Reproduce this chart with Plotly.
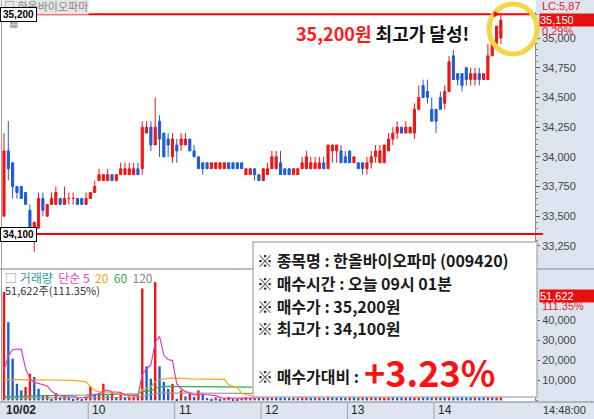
import pandas as pd
import plotly.graph_objects as go

# ---- data (20-min candles, 10/02 .. 14) ----
day_labels = ["10/02", "10", "11", "12", "13", "14"]
day_starts = [0, 20, 40, 60, 80, 100]

open_ = [33500, 34050, 33950, 33750, 33750, 33700, 33550, 33400, 33400, 33650,
         33500, 33600, 33600, 33650, 33600, 33650, 33650, 33650, 33650, 33600,
         33650, 33700, 33800, 33800, 33800, 33850, 33800, 33850, 33850, 33850,
         33850, 33900, 33900, 34200, 34250, 34100, 34300, 34200, 34150, 34000,
         34100, 34100, 34100, 34150, 34050, 34000, 33950, 33950, 33900, 33900,
         33900, 33900, 33950, 33950, 33950, 33950, 33850, 33850, 33900, 33850,
         33800, 33850, 33900, 33900, 33950, 33900, 33900, 33850, 33850, 33900,
         33900, 33900, 33900, 33900, 33950, 33900, 34050, 34050, 34050, 34000,
         34050, 33950, 33950, 33950, 33900, 33950, 34000, 33950, 33950, 34050,
         34150, 34200, 34250, 34200, 34200, 34200, 34400, 34600, 34550, 34400,
         34400, 34500, 34450, 34550, 34850, 34700, 34700, 34750, 34650, 34650,
         34700, 34650, 34650, 34850, 34950, 35000]
high = [34200, 34300, 33950, 33750, 33750, 33700, 33600, 33450, 33700, 33700,
        33600, 33700, 33750, 33650, 33750, 33700, 33700, 33650, 33650, 33700,
        33700, 33800, 33900, 33850, 33900, 33850, 33850, 33950, 33950, 33950,
        33950, 33950, 34300, 34300, 34300, 34500, 34350, 34200, 34200, 34200,
        34150, 34200, 34200, 34150, 34100, 34000, 33950, 33950, 33950, 33950,
        33950, 33950, 33950, 33950, 33950, 33950, 33900, 33900, 33900, 33850,
        33900, 33950, 34050, 34050, 34050, 33900, 33900, 33900, 33900, 34000,
        34050, 34000, 34000, 34000, 34000, 34100, 34100, 34100, 34100, 34050,
        34050, 34000, 33950, 33950, 34000, 34050, 34100, 34100, 34100, 34200,
        34250, 34300, 34250, 34300, 34250, 34450, 34600, 34650, 34650, 34500,
        34400, 34550, 34600, 34850, 34900, 34700, 34700, 34750, 34750, 34750,
        34750, 34700, 34950, 34950, 35100, 35200]
low = [33500, 33800, 33650, 33650, 33650, 33600, 33400, 33200, 33400, 33500,
       33500, 33600, 33600, 33600, 33600, 33600, 33600, 33600, 33600, 33600,
       33650, 33700, 33800, 33800, 33800, 33800, 33800, 33850, 33850, 33850,
       33850, 33850, 33850, 34200, 34050, 34100, 34000, 34000, 34000, 33950,
       33950, 34050, 34100, 34050, 34000, 33900, 33850, 33900, 33900, 33900,
       33900, 33900, 33900, 33900, 33900, 33900, 33850, 33850, 33800, 33800,
       33800, 33850, 33900, 33900, 33850, 33850, 33850, 33850, 33850, 33900,
       33900, 33900, 33900, 33900, 33900, 33900, 33950, 33950, 33950, 33950,
       33950, 33950, 33900, 33850, 33850, 33900, 33950, 33950, 33950, 34050,
       34100, 34150, 34200, 34200, 34200, 34150, 34400, 34500, 34450, 34300,
       34200, 34400, 34400, 34550, 34650, 34600, 34550, 34600, 34600, 34600,
       34600, 34650, 34650, 34850, 34950, 34950]
close = [34050, 33900, 33750, 33700, 33650, 33600, 33400, 33450, 33650, 33550,
         33600, 33650, 33700, 33600, 33650, 33650, 33650, 33600, 33600, 33650,
         33700, 33750, 33850, 33850, 33850, 33800, 33850, 33900, 33900, 33900,
         33900, 33850, 34250, 34250, 34100, 34250, 34150, 34000, 34100, 34150,
         34050, 34150, 34150, 34050, 34000, 33900, 33900, 33900, 33950, 33950,
         33950, 33950, 33900, 33900, 33900, 33900, 33900, 33900, 33850, 33800,
         33900, 33900, 34000, 34000, 33850, 33850, 33850, 33900, 33900, 33950,
         34000, 33950, 33950, 33950, 33900, 34100, 34100, 34100, 33950, 33950,
         33950, 34000, 33900, 33900, 33950, 34000, 34050, 34050, 34100, 34150,
         34200, 34250, 34200, 34250, 34250, 34400, 34500, 34500, 34500, 34300,
         34300, 34400, 34550, 34800, 34650, 34650, 34600, 34650, 34700, 34700,
         34650, 34700, 34850, 34950, 35100, 35150]
volume = [54000, 39000, 20800, 8300, 5000, 6700, 13300, 11700, 5800, 2500,
          2500, 800, 3700, 1700, 2500, 1700, 800, 1200, 300, 2000,
          7000, 3300, 3700, 8300, 2500, 3700, 1700, 3700, 1700, 2000,
          2000, 2500, 55800, 17000, 10800, 59000, 17000, 9200, 5800, 8300,
          800, 5000, 2000, 3300, 1700, 5000, 3300, 1200, 900, 1500,
          800, 1000, 1700, 600, 900, 1100, 1600, 1300, 1800, 1200,
          2500, 1800, 4000, 3000, 2000, 1500, 1200, 1400, 1100, 2200,
          2600, 1500, 1300, 1600, 1200, 4500, 3000, 2400, 1800, 1500,
          2000, 1700, 1400, 1900, 1600, 2100, 1800, 2500, 3200, 4200,
          3600, 3000, 2200, 2500, 1800, 6500, 7200, 5000, 3800, 3200,
          12000, 6000, 5200, 18000, 14000, 6000, 4800, 4200, 3600, 3900,
          3000, 2800, 16000, 9000, 14000, 51622]
# last bars of the session before 10/02 (not drawn), they seed the 5 / 20 averages
prev_session_volume = [40000, 22000, 9000, 6000, 7000, 12000, 11000, 6000, 3000, 2500,
                       1000, 3500, 2000, 2500, 4000, 3000, 5500, 6500, 6000]
ma60 = [1800, 1900, 2000, 2000, 2100, 2100, 2200, 2300, 2300, 2400,
        2400, 2400, 2500, 2500, 2500, 2600, 2600, 2600, 2600, 2700,
        2800, 2800, 2900, 3000, 3000, 3100, 3100, 3100, 3200, 3200,
        3200, 3300, 4400, 4700, 4900, 5900, 6800, 7000, 7000, 7000,
        7000, 7000, 6950, 6950, 6900, 6900, 6900, 6850, 6850, 6800,
        6800, 6800, 6750, 6750, 6700, 6700, 6700, 6650, 6600, 6600,
        6500, 6500, 6500, 6400, 6400, 6300, 6300, 6200, 6200, 6100,
        6100, 6000, 6000, 5900, 5900, 5800, 5800, 5700, 5700, 5600,
        5500, 5500, 5400, 5400, 5300, 5300, 5200, 5200, 5200, 5100,
        5100, 5100, 4300, 4300, 4300, 3400, 3500, 3600, 3600, 3700,
        3900, 4000, 4100, 4400, 4600, 4700, 4800, 4800, 4900, 4900,
        5000, 5000, 5300, 5400, 5600, 6400]
ma120 = [1100, 1100, 1100, 1100, 1150, 1150, 1150, 1150, 1200, 1200,
         1200, 1200, 1200, 1250, 1250, 1250, 1250, 1300, 1300, 1300,
         1300, 1300, 1350, 1350, 1350, 1350, 1400, 1400, 1400, 1400,
         1450, 1450, 2200, 2600, 2900, 3400, 3600, 3700, 3700, 3700,
         3700, 3700, 3700, 3650, 3650, 3650, 3650, 3600, 3600, 3600,
         3600, 3600, 3550, 3550, 3550, 3550, 3500, 3500, 3500, 3500,
         3500, 3450, 3450, 3450, 3450, 3400, 3400, 3400, 3400, 3400,
         3350, 3350, 3350, 3350, 3350, 3350, 3300, 3300, 3300, 3300,
         3300, 3300, 3250, 3250, 3250, 3250, 3250, 3200, 3200, 3200,
         3250, 3250, 3250, 3250, 3250, 3300, 3350, 3400, 3400, 3450,
         3550, 3600, 3650, 3800, 3900, 3950, 4000, 4050, 4100, 4100,
         4150, 4200, 4300, 4400, 4500, 4900]

price_ticks = [33250, 33500, 33750, 34000, 34250, 34500, 34750, 35000]
volume_ticks = [10000, 20000, 30000, 40000]
high_mark = 35200   # red line / "35,200" tag
low_mark = 33350    # red line with the "34,100" tag

RED = "#f01414"
BLUE = "#1f5ad6"
PANEL = "#dce5ef"
W, H = 594, 419


def px(x):
    return x / W


def py(y):
    return 1 - y / H


idx = list(range(len(close)))

# moving averages of volume (5 and 20 from the bars, 60/120 as read)
vol_all = pd.Series(prev_session_volume + volume, dtype=float)
n_prev = len(prev_session_volume)
ma5 = vol_all.rolling(5).mean().iloc[n_prev:].tolist()
ma20 = vol_all.rolling(20).mean().iloc[n_prev:].tolist()

# volume bar colour: red when volume >= previous bar, blue otherwise
vol_colors = [RED if i == 0 or volume[i] >= volume[i - 1] else BLUE for i in idx]

fig = go.Figure()

fig.add_trace(go.Candlestick(
    x=idx, open=open_, high=high, low=low, close=close,
    increasing=dict(line=dict(color=RED, width=1), fillcolor=RED),
    decreasing=dict(line=dict(color=BLUE, width=1), fillcolor=BLUE),
    whiskerwidth=0, showlegend=False, hoverinfo="skip",
    xaxis="x", yaxis="y",
))

fig.add_trace(go.Bar(
    x=idx, y=volume, marker=dict(color=vol_colors, line=dict(width=0)),
    width=0.55, showlegend=False, hoverinfo="skip", xaxis="x2", yaxis="y2",
))

for series, color in [(ma120, "#9a9a9a"), (ma60, "#2fae4e"), (ma20, "#f2a81d"), (ma5, "#e23cc8")]:
    fig.add_trace(go.Scatter(
        x=idx, y=series, mode="lines", line=dict(color=color, width=1.2),
        showlegend=False, hoverinfo="skip", xaxis="x2", yaxis="y2",
    ))

x_range = [-0.46, 122.9]
tickfont = dict(family="Liberation Sans", size=11, color="#444")

fig.update_layout(
    width=W, height=H,
    margin=dict(l=0, r=0, t=0, b=0),
    paper_bgcolor="white", plot_bgcolor="white",
    font=dict(family="Noto Sans CJK KR, Liberation Sans"),
    boxgap=0.3,
    xaxis=dict(domain=[px(2), px(535)], range=x_range, showticklabels=False,
               showgrid=False, zeroline=False, rangeslider=dict(visible=False), anchor="y"),
    xaxis2=dict(domain=[px(2), px(535)], range=x_range, matches="x", showticklabels=False,
                showgrid=False, zeroline=False, anchor="y2"),
    yaxis=dict(domain=[py(267), py(12)], range=[33073, 35219], side="right",
               tickvals=price_ticks, tickformat=",", ticks="outside", ticklen=4,
               tickcolor="#555", showline=True, linecolor="#8a8a8a", showgrid=False,
               zeroline=False, tickfont=tickfont, automargin=False, anchor="x",
               minor=dict(ticks="outside", ticklen=2, dtick=50, tickcolor="#888")),
    yaxis2=dict(domain=[py(401), py(272)], range=[-300, 64000], side="right",
                tickvals=volume_ticks, tickformat=",", ticks="outside", ticklen=4,
                tickcolor="#555", showline=True, linecolor="#8a8a8a", showgrid=False,
                zeroline=False, tickfont=tickfont, automargin=False, anchor="x2",
                minor=dict(ticks="outside", ticklen=2, dtick=2000, tickcolor="#888")),
)

shapes = [
    # right axis panel and bottom date strip
    dict(type="rect", xref="paper", yref="paper", x0=px(536), x1=1, y0=0, y1=1,
         fillcolor=PANEL, line=dict(width=0), layer="below"),
    dict(type="rect", xref="paper", yref="paper", x0=0, x1=px(536), y0=0, y1=py(402),
         fillcolor=PANEL, line=dict(width=0), layer="below"),
    # panel separators
    dict(type="line", xref="paper", yref="paper", x0=0, x1=1, y0=py(269), y1=py(269),
         line=dict(color="#9aa6b2", width=1.5)),
    dict(type="line", xref="paper", yref="paper", x0=0, x1=1, y0=py(402), y1=py(402),
         line=dict(color="#9aa6b2", width=1.5)),
    dict(type="line", xref="paper", yref="paper", x0=px(1.5), x1=px(1.5), y0=py(402), y1=1,
         line=dict(color="#a0a0a0", width=1)),
    # high / low marker lines
    dict(type="line", xref="paper", yref="y", x0=px(36), x1=px(534), y0=high_mark, y1=high_mark,
         line=dict(color="#ff0000", width=2)),
    dict(type="line", xref="paper", yref="y", x0=px(36), x1=px(543), y0=low_mark, y1=low_mark,
         line=dict(color="#ff0000", width=2)),
    # yellow highlight circle
    dict(type="circle", xref="paper", yref="paper", x0=px(489), x1=px(537), y0=py(54), y1=py(4),
         line=dict(color="#f5d547", width=5)),
    # info box
    dict(type="rect", xref="paper", yref="paper", x0=px(253), x1=px(537), y0=py(397), y1=py(242),
         fillcolor="white", line=dict(color="#b5b5b5", width=1.5), layer="above"),
]
for s in day_starts[1:]:
    shapes.append(dict(type="line", xref="x", yref="paper", x0=s - 0.5, x1=s - 0.5,
                       y0=0, y1=py(402), line=dict(color="#9aa6b2", width=1)))
fig.update_layout(shapes=shapes)

ann = []
for s, lab in zip(day_starts, day_labels):
    ann.append(dict(x=max(s - 0.5, -0.45), y=py(410), xref="x", yref="paper",
                    xanchor="left", yanchor="middle", xshift=2, showarrow=False,
                    text=f"<b>{lab}</b>" if s == 0 else lab,
                    font=dict(family="Liberation Sans", size=12, color="#222")))

ann += [
    # header tab
    dict(x=px(3), y=py(6), xref="paper", yref="paper", xanchor="left", yanchor="middle",
         showarrow=False, text="□ 한올바이오파마", bgcolor="#e6e6e6", borderpad=0,
         font=dict(size=11, color="#888")),
    dict(x=px(7), y=py(23), xref="paper", yref="paper", xanchor="left", yanchor="middle",
         showarrow=False, text="▦", font=dict(family="DejaVu Sans", size=10, color="#999")),
    # price tags on the left
    dict(x=0, y=high_mark, xref="paper", yref="y", xanchor="left", yanchor="middle",
         showarrow=False, text="<b>35,200</b>", bgcolor="white", bordercolor="black",
         borderwidth=1, borderpad=1, width=33,
         font=dict(family="Liberation Sans", size=10, color="black")),
    dict(x=0, y=low_mark, xref="paper", yref="y", xanchor="left", yanchor="middle",
         showarrow=False, text="<b>34,100</b>", bgcolor="white", bordercolor="black",
         borderwidth=1, borderpad=1, width=33,
         font=dict(family="Liberation Sans", size=10, color="black")),
    # headline
    dict(x=px(382), y=py(33), xref="paper", yref="paper", xanchor="center", yanchor="middle",
         showarrow=False,
         text="<b><span style='color:#ff1a1a'>35,200원</span> 최고가 달성!</b>",
         font=dict(size=18, color="#111")),
    # arrow at the high
    dict(x=115, y=high_mark, xref="x", yref="y", ax=-9, ay=0, text="", showarrow=True,
         arrowhead=2, arrowsize=0.8, arrowwidth=1.5, arrowcolor="#ff0000", standoff=1),
    # right axis widgets
    dict(x=px(540), y=py(6), xref="paper", yref="paper", xanchor="left", yanchor="middle",
         showarrow=False, text="LC:5,87",
         font=dict(family="Liberation Sans", size=11, color="#e02020")),
    dict(x=px(539), y=py(20), xref="paper", yref="paper", xanchor="left", yanchor="middle",
         showarrow=False, text="35,150", bgcolor="#e8100e", borderpad=0, width=56, align="left",
         font=dict(family="Liberation Sans", size=11, color="white")),
    dict(x=px(540), y=py(31), xref="paper", yref="paper", xanchor="left", yanchor="middle",
         showarrow=False, text="0.29%",
         font=dict(family="Liberation Sans", size=11, color="#e02020")),
    dict(x=px(539), y=py(296), xref="paper", yref="paper", xanchor="left", yanchor="middle",
         showarrow=False, text="51,622", bgcolor="#e8100e", borderpad=0, width=56, align="left",
         font=dict(family="Liberation Sans", size=11, color="white")),
    dict(x=px(540), y=py(306), xref="paper", yref="paper", xanchor="left", yanchor="middle",
         showarrow=False, text="111.35%",
         font=dict(family="Liberation Sans", size=11, color="#e02020")),
    dict(x=px(541), y=py(410), xref="paper", yref="paper", xanchor="left", yanchor="middle",
         showarrow=False, text="14:48:00",
         font=dict(family="Liberation Sans", size=11, color="#333")),
    # volume pane header
    dict(x=px(3), y=py(277), xref="paper", yref="paper", xanchor="left", yanchor="middle",
         showarrow=False,
         text=("<span style='color:#888'>□</span> <span style='color:#2a9d9d'>거래량</span>  "
               "<span style='color:#e23cc8'>단순 5</span>  <span style='color:#f2a81d'>20</span>  "
               "<span style='color:#2fae4e'>60</span>  <span style='color:#888'>120</span>"),
         font=dict(size=12)),
    dict(x=px(3), y=py(290), xref="paper", yref="paper", xanchor="left", yanchor="middle",
         showarrow=False, text="51,622주(111.35%)",
         font=dict(size=11, color="#333")),
]

box_lines = [
    ("※ 종목명 : 한올바이오파마 (009420)", 260),
    ("※ 매수시간 : 오늘 09시 01분", 283),
    ("※ 매수가 : 35,200원", 306),
    ("※ 최고가 : 34,100원", 328),
    ("※ 매수가대비 :", 376),
]
for text, y in box_lines:
    ann.append(dict(x=px(255), y=py(y), xref="paper", yref="paper", xanchor="left",
                    yanchor="middle", showarrow=False, text=f"<b>{text}</b>",
                    font=dict(size=16, color="#1a1a1a")))
ann.append(dict(x=px(362), y=py(371), xref="paper", yref="paper", xanchor="left",
                yanchor="middle", showarrow=False, text="<b>+3.23%</b>",
                font=dict(size=36, color="#ff1010")))

fig.update_layout(annotations=ann)

# page body margin off so the figure sits at the window's top-left corner
fig.write_html("out.html", config={"displayModeBar": False},
               post_script="document.body.style.margin='0px';")
